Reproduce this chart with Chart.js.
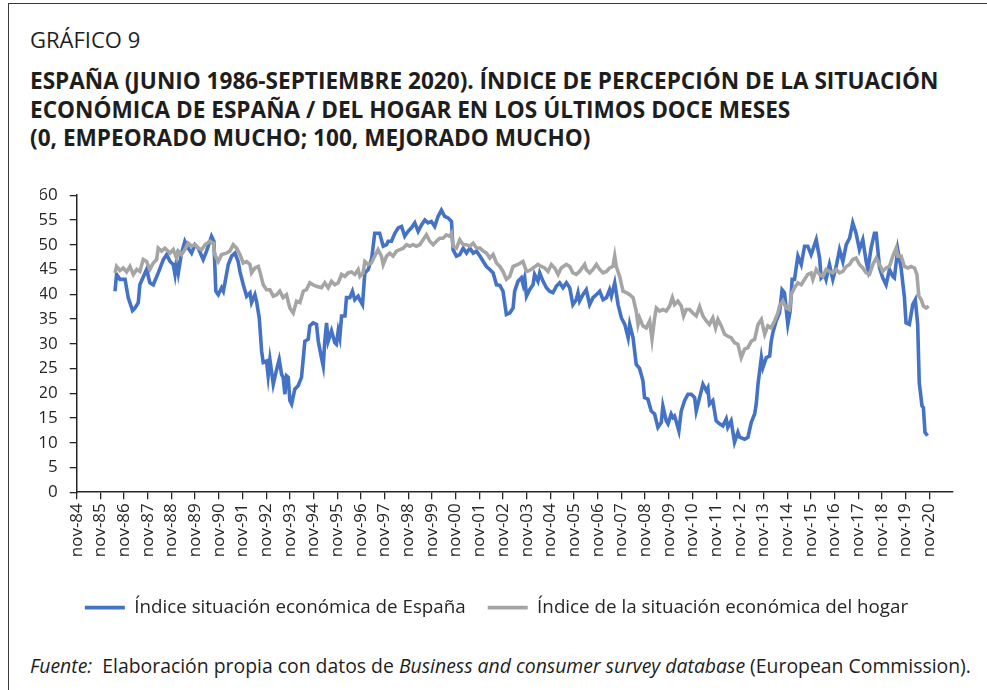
<!DOCTYPE html>
<html>
<head>
<meta charset="utf-8">
<script src="https://cdn.jsdelivr.net/npm/chart.js@4.4.0/dist/chart.umd.min.js"></script>
<style>
  body { margin: 0; width: 987px; height: 690px; background: #fff; position: relative; overflow: hidden;
         font-family: "Open Sans", sans-serif; color: #1e1e1e; }
  .marco { position: absolute; left: 8px; top: 3px; width: 1000px; height: 700px;
           border-left: 1.5px solid #3a3a3a; border-top: 1.5px solid #3a3a3a; }
  #numero { position: absolute; left: 30px; top: 26px; font-size: 22px; line-height: 26px; }
  #titulo { position: absolute; left: 30px; top: 67px; font-size: 22.6px; line-height: 28.5px; font-weight: bold; white-space: nowrap; }
  #fuente { position: absolute; left: 30px; top: 655px; font-size: 19.4px; line-height: 22px; white-space: nowrap; }
  #lienzo { position: absolute; left: 0; top: 173px; }
</style>
</head>
<body>
<div class="marco"></div>
<div id="numero">GRÁFICO 9</div>
<div id="titulo">ESPAÑA (JUNIO 1986-SEPTIEMBRE 2020). ÍNDICE DE PERCEPCIÓN DE LA SITUACIÓN<br>ECONÓMICA DE ESPAÑA / DEL HOGAR EN LOS ÚLTIMOS DOCE MESES<br>(0, EMPEORADO MUCHO; 100, MEJORADO MUCHO)</div>
<canvas id="lienzo" width="987" height="462"></canvas>
<div id="fuente"><i>Fuente:</i>&nbsp; Elaboración propia con datos de <i>Business and consumer survey database</i> (European Commission).</div>

<script>
// meses contados desde nov-84 (0 = nov-84)
const etiquetasX = ['nov-84','nov-85','nov-86','nov-87','nov-88','nov-89','nov-90','nov-91','nov-92',
  'nov-93','nov-94','nov-95','nov-96','nov-97','nov-98','nov-99','nov-00','nov-01','nov-02','nov-03',
  'nov-04','nov-05','nov-06','nov-07','nov-08','nov-09','nov-10','nov-11','nov-12','nov-13','nov-14',
  'nov-15','nov-16','nov-17','nov-18','nov-19','nov-20'];

const ticksY = [0, 5, 10, 15, 20, 25, 30, 35, 40, 45, 50, 55, 60];

// Índice situación económica de España [mes, valor]
const espana = [
  [19.4,40.6],[20.2,44.0],[21.9,43.0],[24.5,43.0],[26.1,39.3],[28.3,36.7],[29.5,37.2],[31.2,38.3],[32.0,41.9],
  [34.6,44.3],[35.4,45.0],[37.1,42.3],[38.8,41.9],[41.3,44.3],[43.9,47.0],[45.6,48.0],[47.3,46.6],[48.9,46.0],
  [49.8,44.0],[50.6,46.6],[51.5,44.3],[53.1,48.3],[54.8,50.7],[56.5,49.3],[58.2,48.3],[59.9,50.0],[61.6,49.3],
  [64.1,47.0],[65.8,48.7],[68.3,51.7],[69.5,50.7],[70.5,40.6],[71.7,39.9],[73.4,41.3],[74.3,40.6],[75.1,42.3],
  [76.8,46.0],[78.5,47.7],[80.2,48.3],[81.8,46.6],[82.7,44.6],[84.4,41.9],[86.1,39.6],[87.8,40.3],[88.6,38.3],
  [90.3,39.9],[91.1,38.6],[92.5,35.2],[93.7,28.5],[94.5,26.2],[96.2,26.5],[97.0,23.5],[97.9,26.8],[98.7,24.5],
  [99.6,21.8],[101.3,24.8],[102.6,26.8],[103.8,23.8],[104.6,23.2],[105.5,19.8],[106.3,23.5],[107.2,23.2],
  [108.0,18.5],[108.9,17.8],[110.5,20.8],[112.2,21.5],[113.9,23.2],[115.6,30.5],[117.3,30.9],[118.1,33.6],
  [119.8,34.2],[121.5,33.9],[122.4,30.5],[124.0,27.2],[124.9,25.5],[125.7,30.5],[126.6,34.2],[127.4,30.5],
  [129.1,32.6],[130.8,30.2],[131.6,29.9],[132.5,32.6],[133.3,31.2],[134.2,35.6],[135.9,35.6],[136.7,39.3],
  [138.4,39.3],[139.7,40.6],[140.9,38.9],[142.6,39.6],[143.4,38.9],[144.8,37.9],[146.0,44.3],[147.7,45.0],
  [149.5,47.3],[151.0,52.3],[153.5,52.3],[155.3,49.7],[157.0,50.0],[157.8,50.7],[159.5,50.7],[161.2,52.3],
  [162.9,53.4],[164.6,53.7],[166.2,51.7],[167.9,52.7],[169.6,53.4],[171.3,54.4],[173.0,52.7],[174.7,54.0],
  [176.4,55.0],[178.0,54.4],[179.7,54.7],[181.4,53.7],[183.1,55.7],[184.8,57.0],[186.5,55.7],[188.2,55.4],
  [189.9,54.7],[190.7,49.0],[192.4,47.7],[194.1,48.0],[195.8,49.3],[197.5,48.3],[199.2,49.3],[200.9,48.3],
  [202.6,48.7],[204.3,47.7],[206.0,46.6],[207.6,45.6],[209.3,45.0],[211.0,44.3],[212.7,41.9],[214.4,41.8],
  [216.0,40.6],[217.7,35.9],[219.4,36.2],[221.1,37.2],[221.9,40.6],[223.6,42.6],[225.3,43.3],[226.2,41.9],
  [227.0,43.3],[227.9,39.6],[229.5,40.9],[231.2,41.9],[232.0,44.0],[233.7,42.6],[234.6,44.3],[236.3,42.6],
  [238.0,41.3],[239.6,40.6],[241.3,40.3],[243.0,41.6],[244.7,42.3],[246.4,41.3],[248.1,42.3],[249.8,41.3],
  [251.4,37.9],[253.1,38.9],[254.0,40.3],[254.8,38.6],[256.5,39.9],[258.2,40.9],[259.9,37.9],[261.6,39.3],
  [263.3,39.9],[265.0,40.6],[266.7,38.9],[268.4,39.3],[270.0,40.9],[270.9,39.6],[272.6,42.3],[274.3,37.9],
  [276.0,35.2],[277.7,33.9],[279.4,31.2],[280.2,33.9],[281.9,31.2],[283.5,25.8],[285.2,25.0],[286.9,22.5],
  [287.7,19.1],[289.4,18.8],[291.1,16.4],[292.8,15.8],[294.5,13.1],[296.2,14.1],[297.0,17.4],[298.7,14.4],
  [299.6,13.8],[301.2,15.8],[302.1,15.1],[302.9,15.4],[303.7,14.4],[305.1,12.4],[306.3,16.4],[308.0,18.5],
  [309.7,19.8],[311.4,19.8],[313.1,19.1],[313.9,16.4],[315.6,19.1],[317.3,21.8],[319.0,20.5],[319.8,21.1],
  [320.6,17.8],[322.3,18.5],[324.0,14.4],[325.7,13.8],[327.4,13.4],[329.1,14.8],[329.9,13.1],[331.6,14.4],
  [333.3,10.1],[335.0,12.1],[335.9,11.1],[338.4,10.7],[340.1,11.1],[341.8,14.1],[343.5,15.8],[344.3,17.8],
  [345.2,21.8],[346.9,27.2],[347.7,25.2],[349.4,27.2],[351.1,27.5],[351.9,30.5],[352.7,32.2],[354.4,34.6],
  [356.1,36.2],[357.4,40.9],[358.6,40.3],[360.3,33.9],[361.5,36.6],[362.5,43.0],[363.7,43.0],[365.4,47.7],
  [367.1,46.0],[368.8,49.7],[370.4,49.7],[372.1,48.0],[373.0,49.0],[374.7,51.0],[376.4,47.3],[377.2,43.3],
  [378.9,44.0],[379.7,43.0],[381.4,46.0],[383.1,43.0],[384.8,45.6],[386.5,49.0],[388.2,46.6],[389.9,50.0],
  [391.6,51.3],[393.2,54.4],[394.9,52.3],[396.6,49.0],[398.3,51.0],[400.0,46.6],[400.9,45.0],[402.5,49.3],
  [404.2,52.3],[405.1,52.3],[406.8,45.3],[408.4,43.3],[410.1,41.9],[411.8,45.0],[413.5,43.6],[414.3,43.3],
  [416.0,49.0],[417.7,45.3],[419.4,39.3],[420.2,34.2],[421.9,33.9],[423.6,37.9],[424.9,38.9],[426.1,33.9],
  [426.9,22.1],[428.3,17.4],[429.0,17.1],[429.8,12.1],[431.1,11.4]
];

// Índice de la situación económica del hogar [mes, valor]
const hogar = [
  [19.4,44.3],[20.2,45.6],[21.9,44.8],[23.6,45.3],[25.3,44.5],[27.0,45.6],[28.7,44.0],[30.4,45.0],[32.0,44.6],
  [33.7,47.0],[35.4,46.6],[37.1,45.0],[38.8,46.3],[40.5,47.0],[41.3,49.3],[43.0,48.7],[44.7,49.3],[47.3,48.3],
  [48.9,49.0],[50.6,47.3],[51.5,48.7],[53.1,48.0],[54.8,49.0],[56.5,50.3],[58.2,49.7],[59.9,50.0],[61.6,49.3],
  [63.3,49.0],[65.0,50.0],[67.5,50.7],[69.2,50.3],[70.0,48.0],[71.7,46.6],[73.4,48.0],[75.9,48.3],[77.6,48.7],
  [79.3,50.0],[81.0,49.3],[82.7,48.0],[84.4,46.3],[86.1,46.6],[87.8,46.0],[88.6,44.3],[90.3,45.3],[92.0,45.6],
  [92.8,44.6],[94.5,41.9],[96.2,40.9],[97.9,40.9],[99.6,39.6],[101.3,39.9],[102.9,40.6],[104.6,39.3],[106.3,39.9],
  [108.0,37.2],[109.7,36.2],[111.4,38.6],[113.1,38.3],[114.8,40.6],[116.4,40.9],[118.1,42.3],[119.8,41.9],
  [121.5,41.6],[124.0,41.3],[125.7,42.3],[127.4,41.3],[129.1,42.6],[130.8,41.9],[132.5,42.3],[134.2,44.0],
  [135.9,43.6],[137.5,44.3],[139.2,44.5],[140.9,44.0],[142.6,45.0],[143.5,43.6],[145.1,44.3],[146.0,46.6],
  [147.7,46.0],[149.3,46.3],[151.0,47.7],[152.7,49.0],[154.4,47.7],[155.3,46.0],[157.0,47.7],[158.6,48.3],
  [160.3,47.7],[162.0,48.7],[163.7,49.0],[165.4,49.3],[167.1,50.0],[168.8,49.7],[170.4,50.0],[172.1,49.7],
  [173.8,50.0],[175.5,51.0],[177.2,52.0],[178.9,50.7],[180.6,50.0],[182.3,50.7],[183.9,51.3],[185.6,51.3],
  [187.3,52.0],[189.0,51.7],[189.9,52.3],[190.7,49.7],[192.4,49.3],[194.1,51.0],[195.8,50.0],[197.5,50.0],
  [199.2,49.7],[200.9,50.3],[202.6,49.3],[204.3,49.3],[206.0,48.7],[207.6,48.3],[209.3,47.3],[211.0,48.0],
  [212.7,46.3],[214.4,45.6],[216.0,44.6],[217.7,43.0],[219.4,43.6],[221.1,45.6],[223.6,46.0],[226.1,46.6],
  [227.9,44.6],[229.5,44.8],[231.2,45.3],[233.7,46.0],[235.4,45.6],[237.1,45.3],[238.8,44.6],[240.5,46.0],
  [242.2,45.3],[243.9,44.0],[245.5,45.3],[248.1,46.0],[249.8,45.6],[251.4,44.3],[253.1,44.0],[254.8,44.6],
  [257.4,46.0],[258.2,45.0],[259.9,44.3],[261.6,45.0],[263.3,46.0],[265.0,45.0],[266.7,44.3],[268.4,44.6],
  [270.0,45.3],[271.7,45.6],[272.6,47.7],[273.4,45.6],[275.1,43.6],[276.8,40.6],[278.5,40.3],[280.2,39.9],
  [281.9,39.3],[283.5,36.6],[284.4,33.9],[285.2,35.2],[286.9,33.6],[288.6,33.2],[290.3,34.6],[291.5,30.9],
  [292.8,35.2],[293.7,37.2],[295.3,36.6],[297.0,36.9],[298.7,36.6],[300.4,37.6],[301.8,39.3],[302.9,37.9],
  [304.6,38.6],[306.3,37.6],[307.5,35.6],[308.8,36.9],[310.5,36.9],[312.2,36.2],[313.9,35.6],[315.6,37.5],
  [317.3,35.6],[319.0,34.6],[320.6,33.9],[322.3,35.2],[323.7,33.2],[324.9,34.9],[326.6,33.6],[328.3,31.9],
  [329.9,31.5],[331.6,31.2],[333.3,30.2],[335.0,29.9],[336.7,27.2],[338.4,28.9],[340.1,29.2],[341.8,30.5],
  [343.5,30.9],[345.2,33.9],[346.9,34.9],[348.6,31.9],[350.2,33.6],[351.9,33.2],[353.6,34.6],[355.3,36.2],
  [356.1,37.6],[357.8,38.6],[359.5,37.2],[361.2,36.9],[362.0,39.9],[363.7,41.3],[365.4,42.3],[367.1,41.9],
  [368.8,43.0],[370.4,44.0],[372.1,44.3],[373.0,43.0],[374.7,45.0],[376.4,44.0],[378.1,43.6],[379.7,45.0],
  [381.4,44.6],[383.1,44.3],[384.8,45.0],[386.5,44.3],[388.2,44.6],[389.9,45.6],[391.6,46.0],[393.2,47.0],
  [394.9,47.3],[396.6,46.0],[398.3,45.3],[400.0,44.3],[401.7,44.0],[403.4,46.0],[405.1,47.3],[406.8,46.0],
  [408.4,44.6],[410.1,45.3],[411.8,45.6],[413.5,47.7],[415.2,49.3],[416.0,47.7],[417.7,47.7],[419.4,45.6],
  [421.1,45.3],[422.8,45.6],[424.5,45.3],[425.7,44.0],[426.7,39.6],[427.9,38.9],[429.0,37.6],[430.4,37.2],
  [431.7,37.6]
];

const aPuntos = serie => serie.map(p => ({ x: p[0], y: p[1] }));
const negro = '#262626';
const fuenteEjes = { family: '"Open Sans", sans-serif', size: 17 };

new Chart(document.getElementById('lienzo').getContext('2d'), {
  type: 'line',
  data: {
    datasets: [
      {
        label: 'Índice situación económica de España',
        data: aPuntos(espana),
        borderColor: '#4472C4',
        backgroundColor: '#4472C4',
        borderWidth: 3.6,
        pointRadius: 0,
        order: 1
      },
      {
        label: 'Índice de la situación económica del hogar',
        data: aPuntos(hogar),
        borderColor: '#A5A5A5',
        backgroundColor: '#A5A5A5',
        borderWidth: 3.6,
        pointRadius: 0,
        order: 0
      }
    ]
  },
  options: {
    responsive: false,
    animation: false,
    layout: { padding: { left: 40, right: 34, top: 10, bottom: 8 } },
    plugins: {
      tooltip: { enabled: false },
      legend: {
        position: 'bottom',
        labels: {
          usePointStyle: true,
          pointStyle: 'line',
          pointStyleWidth: 40,
          color: negro,
          font: { family: '"Open Sans", sans-serif', size: 18.8 },
          padding: 22,
          sort: (a, b) => a.datasetIndex - b.datasetIndex
        }
      }
    },
    scales: {
      x: {
        type: 'linear',
        min: 0,
        max: 444,
        afterBuildTicks: escala => {
          escala.ticks = etiquetasX.map((t, i) => ({ value: i * 12 }));
        },
        afterFit: escala => { escala.height = 84; },
        ticks: {
          autoSkip: false,
          minRotation: 90,
          maxRotation: 90,
          padding: 4,
          color: negro,
          font: fuenteEjes,
          callback: (v, i) => etiquetasX[i]
        },
        grid: { drawOnChartArea: false, drawTicks: true, tickLength: 7, color: negro, lineWidth: 1.3 },
        border: { color: negro, width: 1.5 }
      },
      y: {
        min: 0,
        max: 60,
        afterBuildTicks: escala => {
          escala.ticks = ticksY.map(v => ({ value: v }));
        },
        afterFit: escala => { escala.width = 36.7; },
        ticks: { padding: 12, color: negro, font: fuenteEjes },
        grid: { drawOnChartArea: false, drawTicks: true, tickLength: 7, color: negro, lineWidth: 1.3 },
        border: { color: negro, width: 1.5 }
      }
    }
  }
});
</script>
</body>
</html>
